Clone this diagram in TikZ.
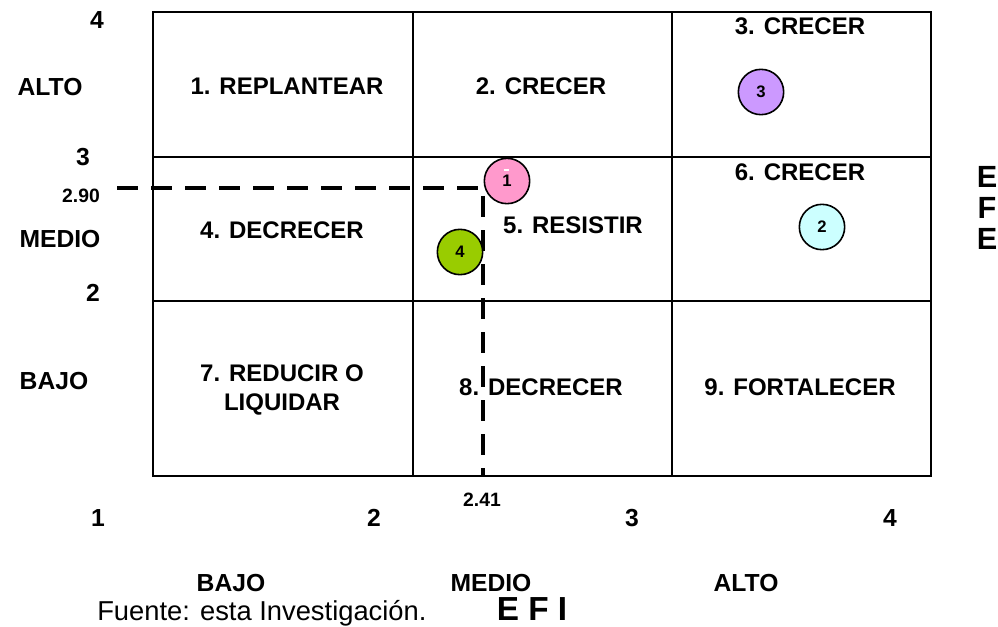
\documentclass[tikz,border=0pt]{standalone}
\usepackage{fontspec}
\setmainfont{Liberation Sans}
\definecolor{dotpink}{HTML}{FF99CC}
\definecolor{dotgreen}{HTML}{99CC00}
\definecolor{dotviolet}{HTML}{CC99FF}
\definecolor{dotcyan}{HTML}{CCFFFF}
\begin{document}
\begin{tikzpicture}[x=0.75pt,y=-0.75pt,
  gridline/.style={line width=1.6pt},
  cell/.style={font=\bfseries\fontsize{18}{22}\selectfont, align=center, inner sep=0pt},
  axis/.style={font=\bfseries\fontsize{18.5}{22}\selectfont, inner sep=0pt},
  tick/.style={font=\bfseries\fontsize{14.5}{17}\selectfont, inner sep=0pt},
  dot/.style={circle, draw, line width=1.2pt, minimum size=34pt, inner sep=0pt,
              font=\bfseries\fontsize{12.5}{14}\selectfont},
  guide/.style={line width=3pt, dash pattern=on 16pt off 9.5pt},
  title/.style={font=\bfseries\fontsize{23}{28}\selectfont, inner sep=0pt}
]
\useasboundingbox (0,0) rectangle (998,627);

% 3x3 grid of the matrix
\draw[gridline] (153,12) rectangle (931,476);
\draw[gridline] (413,12) -- (413,476);
\draw[gridline] (672,12) -- (672,476);
\draw[gridline] (153,157) -- (931,157);
\draw[gridline] (153,301) -- (931,301);

% cell labels
\node[cell] (q1) at (287,86) {1. REPLANTEAR};
\node[cell] (q2) at (541,86) {2. CRECER};
\node[cell] (q3) at (800,26) {3. CRECER};
\node[cell] (q4) at (282,230) {4. DECRECER};
\node[cell] (q5) at (573,225) {5. RESISTIR};
\node[cell] (q6) at (800,172) {6. CRECER};
\node[cell] (q7) at (282,390) {7. REDUCIR O\\LIQUIDAR};
\node[cell] (q8) at (541,387) {8. DECRECER};
\node[cell] (q9) at (800,387) {9. FORTALECER};

% vertical axis (EFE)
\node[axis] (y4) at (97,20) {4};
\node[axis] (yalto) at (50,87) {ALTO};
\node[axis] (y3) at (83,157) {3};
\node[tick] (y290) at (81,196) {2.90};
\node[axis] (ymedio) at (60,239) {MEDIO};
\node[axis] (y2) at (93,293) {2};
\node[axis] (ybajo) at (54,381) {BAJO};
\node[title] (efe1) at (987,177) {E};
\node[title] (efe2) at (987,208) {F};
\node[title] (efe3) at (987,239) {E};

% horizontal axis (EFI)
\node[axis] (x1) at (98,518) {1};
\node[axis] (x2) at (374,518) {2};
\node[tick] (x241) at (482,500) {2.41};
\node[axis] (x3) at (632,518) {3};
\node[axis] (x4) at (890,518) {4};
\node[axis] (xbajo) at (231,583) {BAJO};
\node[axis] (xmedio) at (491,583) {MEDIO};
\node[axis] (xalto) at (746,583) {ALTO};
\node[title, font=\bfseries\fontsize{25}{30}\selectfont] (efi) at (532,609) {E F I};
\node[inner sep=0pt, anchor=base west, font=\fontsize{20.5}{24}\selectfont] (src) at (97,620) {Fuente: esta Investigación.};

% guide lines for the weighted result (2.41, 2.90)
\coordinate (hstart) at (117,188);
\coordinate (meet) at (483,188);
\coordinate (vend) at (483,476);
\draw[guide] (hstart) -- (meet) -- (vend);

% positioned items
\node[dot, fill=dotpink] (c1) at (507,181) {1};
\draw[white, line width=1.3pt] (503.5,170) -- (508.5,170);
\node[dot, fill=dotgreen] (c4) at (460,252) {4};
\node[dot, fill=dotviolet] (c3) at (761,92) {3};
\node[dot, fill=dotcyan] (c2) at (822,227) {2};
\end{tikzpicture}
\end{document}
